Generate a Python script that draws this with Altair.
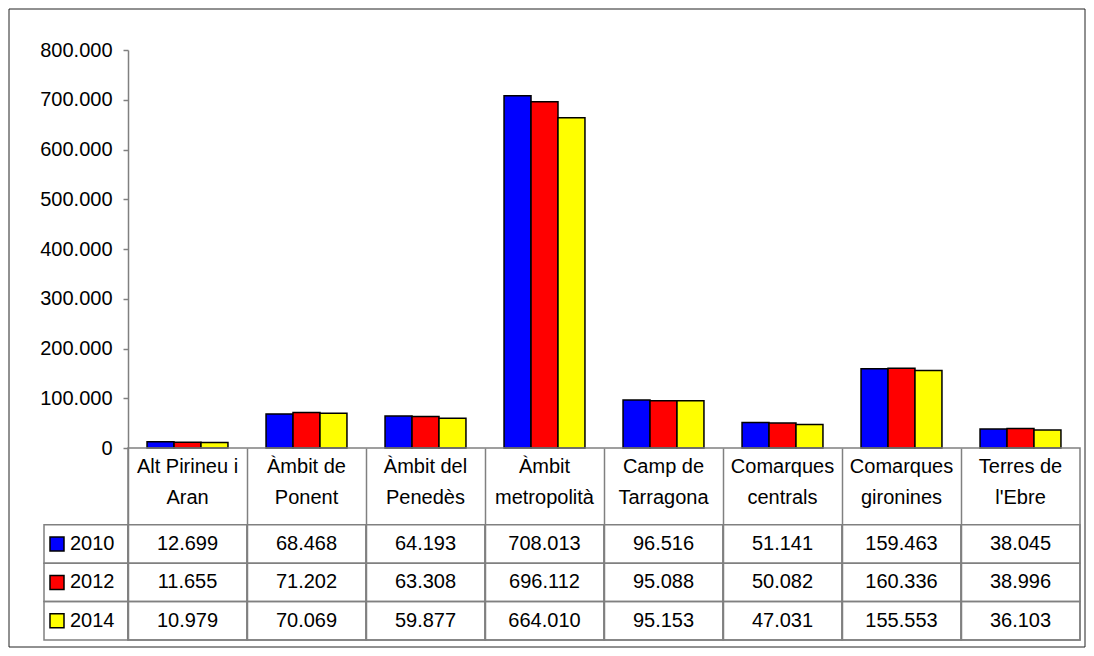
import altair as alt
import pandas as pd

categories = ["Alt Pirineu i Aran", "Àmbit de Ponent", "Àmbit del Penedès", "Àmbit metropolità",
              "Camp de Tarragona", "Comarques centrals", "Comarques gironines", "Terres de l'Ebre"]
header_line1 = ["Alt Pirineu i", "Àmbit de", "Àmbit del", "Àmbit", "Camp de", "Comarques", "Comarques", "Terres de"]
header_line2 = ["Aran", "Ponent", "Penedès", "metropolità", "Tarragona", "centrals", "gironines", "l'Ebre"]
years = ["2010", "2012", "2014"]
v2010 = [12699, 68468, 64193, 708013, 96516, 51141, 159463, 38045]
v2012 = [11655, 71202, 63308, 696112, 95088, 50082, 160336, 38996]
v2014 = [10979, 70069, 59877, 664010, 95153, 47031, 155553, 36103]
colors = ["#0000FF", "#FF0000", "#FFFF00"]
y_ticks = [0, 100000, 200000, 300000, 400000, 500000, 600000, 700000, 800000]

FONT = "Liberation Sans"
FS = 20
LINE = "#808080"
W = 952

series = {"2010": v2010, "2012": v2012, "2014": v2014}
rows = []
for yr in years:
    for c, v in zip(categories, series[yr]):
        rows.append({"cat": c, "year": yr, "row": yr, "value": v,
                     "label": f"{v:,}".replace(",", ".")})
df = pd.DataFrame(rows)

hdr = []
for c, a, b in zip(categories, header_line1, header_line2):
    hdr.append({"cat": c, "row": "h1", "text": a})
    hdr.append({"cat": c, "row": "h2", "text": b})
hdf = pd.DataFrame(hdr)

leg = pd.DataFrame({"row": years, "year": years})

color_scale = alt.Scale(domain=years, range=colors)

# ---------- bar chart ----------
bars = alt.Chart(df).mark_bar(stroke="black", strokeWidth=1.5).encode(
    x=alt.X("cat:N", sort=categories, axis=None,
            scale=alt.Scale(paddingInner=0.32, paddingOuter=0.16)),
    xOffset=alt.XOffset("year:N", sort=years, scale=alt.Scale(paddingInner=0, paddingOuter=0)),
    y=alt.Y("value:Q", scale=alt.Scale(domain=[0, 800000], nice=False),
            axis=alt.Axis(values=y_ticks, title=None, grid=False,
                          labelExpr="replace(format(datum.value, ','), regexp(',', 'g'), '.')",
                          labelFont=FONT, labelFontSize=FS, labelColor="black",
                          labelPadding=11, tickSize=5, tickColor=LINE, domainColor=LINE,
                          tickWidth=1.5, domainWidth=1.5)),
    color=alt.Color("year:N", scale=color_scale, legend=None),
)

frame = alt.Chart(alt.Data(values=[{"k": 1}])).mark_rect(
    fillOpacity=0, stroke="#222222", strokeWidth=1
).encode(x=alt.value(-119), x2=alt.value(957), y=alt.value(-41), y2=alt.value(597))

top = alt.layer(bars, frame).properties(
    width=W, height=398, view=alt.ViewBackground(strokeOpacity=0)
)

# ---------- data table ----------
row_dom = ["h1", "h2"] + years
X_t = alt.X("cat:N", sort=categories, scale=alt.Scale(paddingInner=0, paddingOuter=0),
            axis=alt.Axis(grid=True, bandPosition=0, gridColor=LINE, gridWidth=1.5,
                          labels=False, ticks=False, domain=False, title=None))
Y_t = alt.Y("row:N", scale=alt.Scale(domain=row_dom, paddingInner=0, paddingOuter=0), axis=None)

cells = alt.Chart(df).mark_rect(fillOpacity=0, stroke=LINE, strokeWidth=1.5).encode(x=X_t, y=Y_t)

cell_text = alt.Chart(df).mark_text(font=FONT, fontSize=FS, color="black").encode(
    x=alt.X("cat:N", sort=categories), y=alt.Y("row:N"), text="label:N")

head1 = alt.Chart(hdf[hdf.row == "h1"]).mark_text(font=FONT, fontSize=FS, color="black").encode(
    x=alt.X("cat:N", sort=categories), y=alt.Y("row:N"), text="text:N")
head2 = alt.Chart(hdf[hdf.row == "h2"]).mark_text(font=FONT, fontSize=FS, color="black", yOffset=-8).encode(
    x=alt.X("cat:N", sort=categories), y=alt.Y("row:N"), text="text:N")

leg_box = alt.Chart(leg).mark_rect(fillOpacity=0, stroke=LINE, strokeWidth=1.5).encode(
    x=alt.value(-84), x2=alt.value(0), y=alt.Y("row:N"))
leg_sym = alt.Chart(leg).mark_square(size=196, stroke="black", strokeWidth=1.5, opacity=1).encode(
    x=alt.value(-71), y=alt.Y("row:N"),
    color=alt.Color("year:N", scale=color_scale, legend=None))
leg_txt = alt.Chart(leg).mark_text(font=FONT, fontSize=FS, color="black", align="left").encode(
    x=alt.value(-58), y=alt.Y("row:N"), text="row:N")

table = alt.layer(cells, cell_text, head1, head2, leg_box, leg_sym, leg_txt).properties(
    width=W, height=192,
    view=alt.ViewBackground(stroke=LINE, strokeWidth=1.5)
)

chart = alt.vconcat(top, table, spacing=0, bounds="flush").resolve_scale(
    x="independent", y="independent"
).properties(padding=0, background="white")

chart.save("out.html", embed_options={"renderer": "svg", "actions": False})
